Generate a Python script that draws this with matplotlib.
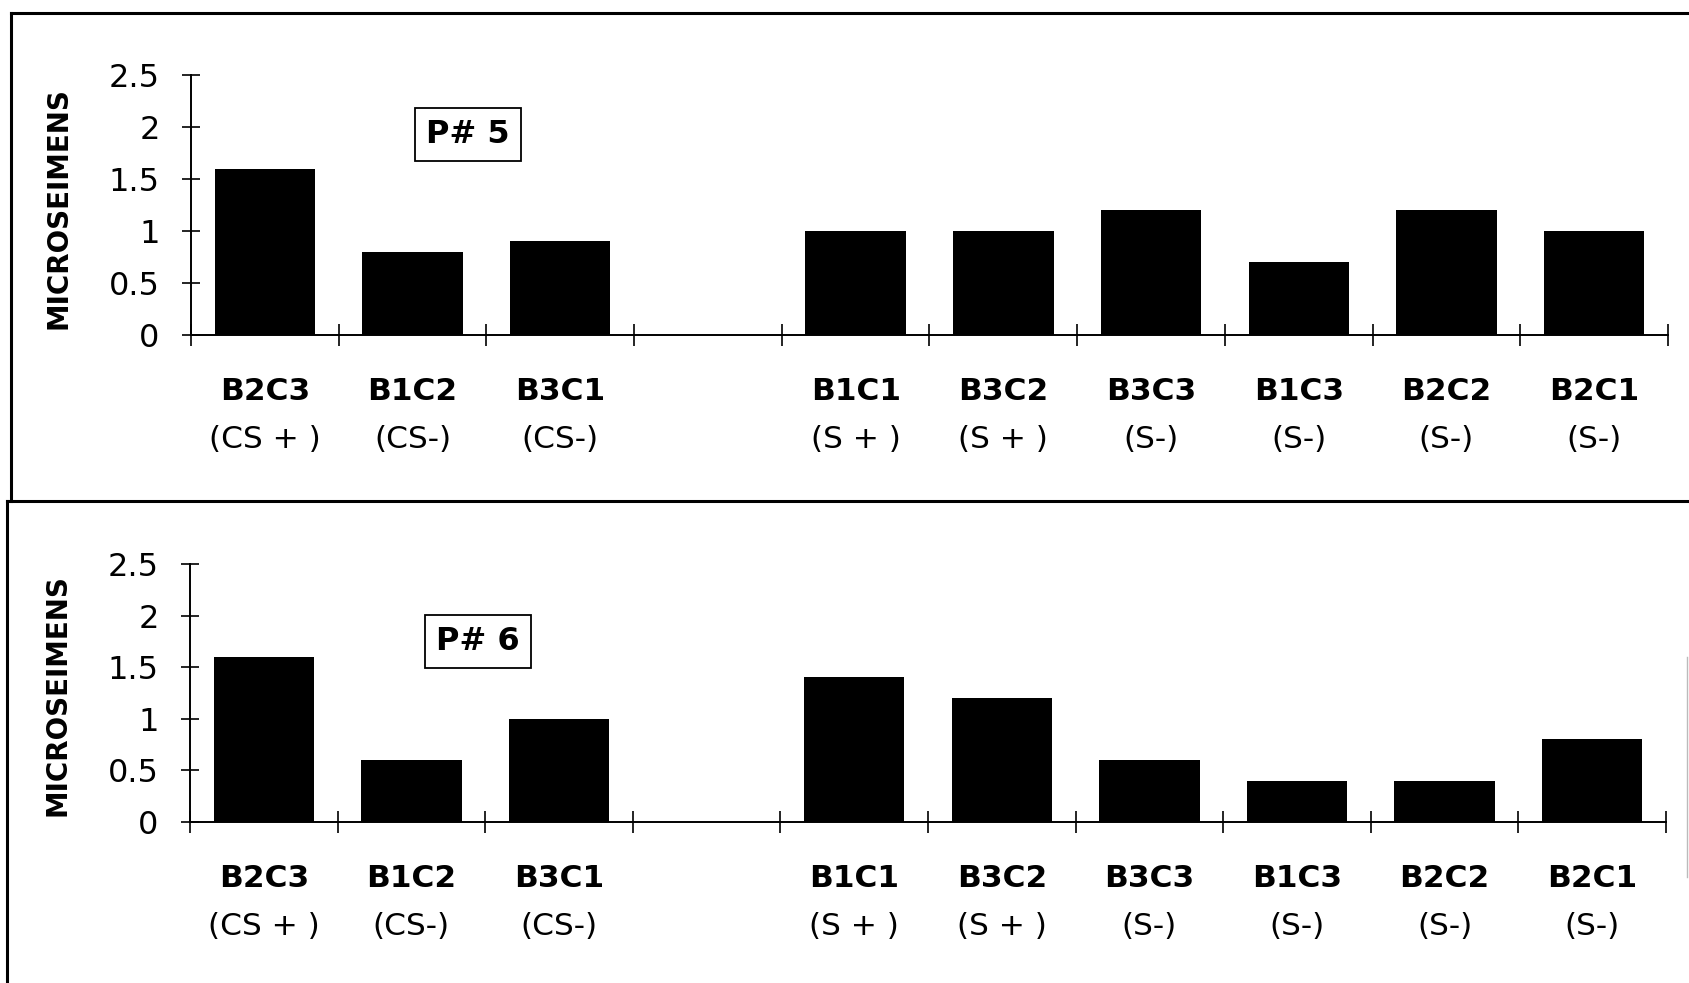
import numpy as np
import matplotlib
matplotlib.use('Agg')
import matplotlib.pyplot as plt
from matplotlib.lines import Line2D

plt.rcParams['font.family'] = ['DejaVu Sans']

# Skin conductance per trial, two subjects
conditions = ['B2C3', 'B1C2', 'B3C1', 'B1C1', 'B3C2', 'B3C3', 'B1C3', 'B2C2', 'B2C1']
stimulus = ['(CS + )', '(CS-)', '(CS-)', '(S + )', '(S + )', '(S-)', '(S-)', '(S-)', '(S-)']
p5_values = [1.6, 0.8, 0.9, 1.0, 1.0, 1.2, 0.7, 1.2, 1.0]
p6_values = [1.6, 0.6, 1.0, 1.4, 1.2, 0.6, 0.4, 0.4, 0.8]
y_ticks = [0, 0.5, 1, 1.5, 2, 2.5]
y_tick_labels = ['0', '0.5', '1', '1.5', '2', '2.5']
panel_titles = ['P# 5', 'P# 6']

# CS group, one empty slot, then the S group
n_cs = 3
positions = list(range(n_cs)) + list(range(n_cs + 1, len(conditions) + 1))
n_slots = len(conditions) + 1

fig = plt.figure(figsize=(16.9, 9.83), dpi=100)

panels = [
    (p5_values, panel_titles[0], [0.1130, 0.6592, 0.8740, 0.2645], (1.375, 1.93)),
    (p6_values, panel_titles[1], [0.1124, 0.1638, 0.8734, 0.2625], (1.45, 1.75)),
]

for values, title, rect, box_xy in panels:
    ax = fig.add_axes(rect)
    ax.bar(positions, values, width=0.68, color='black', edgecolor='none')

    ax.set_xlim(-0.5, n_slots - 0.5)
    ax.set_ylim(0, 2.5)

    for side in ['top', 'right']:
        ax.spines[side].set_visible(False)
    for side in ['left', 'bottom']:
        ax.spines[side].set_linewidth(1.4)

    ax.set_yticks(y_ticks, labels=y_tick_labels, fontsize=23)
    ax.tick_params(axis='y', direction='inout', length=13, width=1.2, pad=16)

    ax.set_xticks(positions, labels=[])
    ax.set_xticks(np.arange(-0.5, n_slots, 1), minor=True)
    ax.tick_params(axis='x', which='major', length=0)
    ax.tick_params(axis='x', which='minor', direction='inout', length=16, width=1.2)

    # two-line category labels under each bar
    for pos, name, stim in zip(positions, conditions, stimulus):
        ax.annotate(name, xy=(pos, 0), xycoords=ax.get_xaxis_transform(),
                    xytext=(0, -41), textcoords='offset points',
                    ha='center', va='center', fontsize=22.5, fontweight='bold')
        ax.annotate(stim, xy=(pos, 0), xycoords=ax.get_xaxis_transform(),
                    xytext=(0, -75), textcoords='offset points',
                    ha='center', va='center', fontsize=22.5)

    ax.text(-0.090, 0.49, 'MICROSEIMENS', transform=ax.transAxes, rotation=90,
            ha='center', va='center', fontsize=20, fontweight='bold')

    ax.text(box_xy[0], box_xy[1], title, ha='center', va='center',
            fontsize=23, fontweight='bold',
            bbox=dict(boxstyle='square,pad=0.35', fc='white', ec='black', lw=1.3))

# panel frames
frame = dict(color='black', lw=2.2, transform=fig.transFigure)
fig.add_artist(Line2D([0.0065, 1.0], [0.9868, 0.9868], **frame))
fig.add_artist(Line2D([0.0065, 0.0065], [0.9868, 0.4903], **frame))
fig.add_artist(Line2D([0.004, 1.0], [0.4903, 0.4903], **frame))
fig.add_artist(Line2D([0.0041, 0.0041], [0.4903, 0.0], **frame))
fig.add_artist(Line2D([0.9985, 0.9985], [0.3316, 0.1078], color='#bbbbbb', lw=1.0,
                      transform=fig.transFigure))

fig.savefig('out.png', dpi=100)
